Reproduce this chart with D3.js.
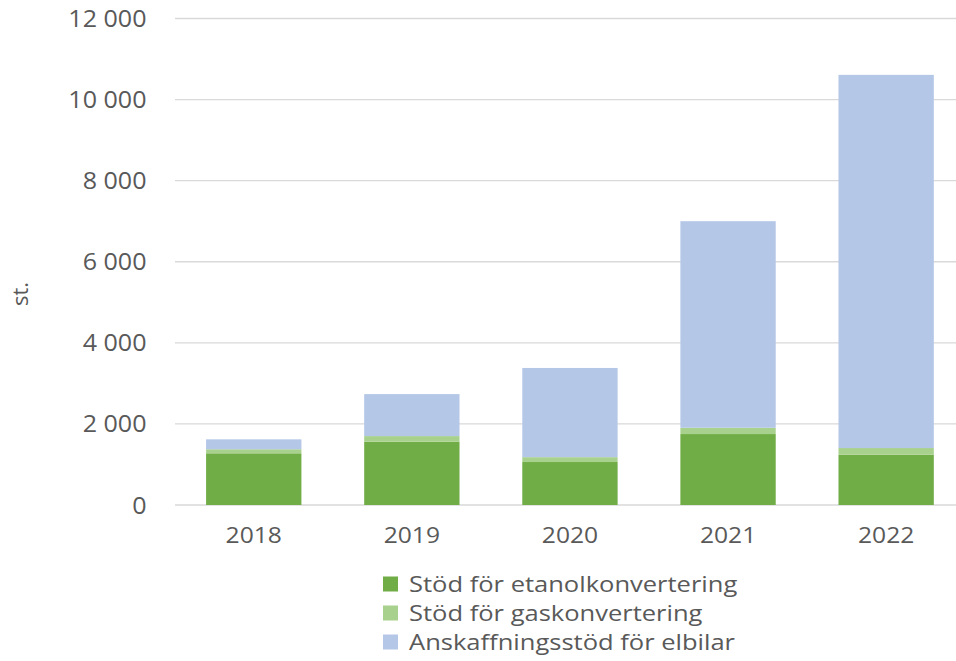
<!DOCTYPE html>
<html>
<head>
<meta charset="utf-8">
<script src="https://cdn.jsdelivr.net/npm/d3@7"></script>
<style>
  html, body { margin: 0; padding: 0; background: #fff; }
  svg { display: block; font-family: "Open Sans", "Noto Sans", sans-serif; }
</style>
</head>
<body>
<svg id="chart" width="956" height="661"></svg>
<script>
const years = ["2018", "2019", "2020", "2021", "2022"];
const etanol = [1275, 1560, 1060, 1750, 1240];
const gas = [100, 140, 120, 155, 165];
const elbil = [245, 1035, 2200, 5095, 9205];
const seriesNames = ["Stöd för etanolkonvertering", "Stöd för gaskonvertering", "Anskaffningsstöd för elbilar"];
const seriesColors = ["#70AD47", "#A9D18E", "#B4C7E7"];
const yTicks = [0, 2000, 4000, 6000, 8000, 10000, 12000];
const yLabel = "st.";

const svg = d3.select("#chart");
const x = d3.scaleBand().domain(years).range([174.7, 965.2]).paddingInner(0.397).paddingOuter(0.1985);
const y = d3.scaleLinear().domain([0, 12000]).range([505, 18.5]);

const fmt = v => d3.format(",")(v).replace(/,/g, " ");

// gridlines
svg.append("g").selectAll("line").data(yTicks).join("line")
  .attr("x1", 175).attr("x2", 965)
  .attr("y1", d => y(d)).attr("y2", d => y(d))
  .attr("stroke", "#d9d9d9").attr("stroke-width", 1.3);

// y axis labels
const yAxis = d3.axisLeft(y).tickValues(yTicks).tickFormat(fmt).tickSize(0).tickPadding(0);
const yg = svg.append("g").attr("transform", "translate(146.5,0)").call(yAxis);
yg.select(".domain").remove();
yg.selectAll("text").attr("fill", "#595959").attr("font-size", 23).attr("font-family", "Open Sans")
  .attr("dy", "0.35em").attr("transform", "scale(1.09,1)");

// stacked data
const rows = years.map((yr, i) => ({ year: yr, e: etanol[i], g: gas[i], b: elbil[i] }));
const stack = d3.stack().keys(["e", "g", "b"])(rows);

svg.append("g").selectAll("g").data(stack).join("g")
  .attr("fill", (d, i) => seriesColors[i])
  .selectAll("rect").data(d => d).join("rect")
  .attr("x", d => x(d.data.year))
  .attr("width", x.bandwidth())
  .attr("y", d => y(d[1]))
  .attr("height", d => y(d[0]) - y(d[1]));

// x axis labels
const xAxis = d3.axisBottom(x).tickSize(0).tickPadding(0);
const xg = svg.append("g").attr("transform", "translate(0,527)").call(xAxis);
xg.select(".domain").remove();
xg.selectAll("text").attr("fill", "#595959").attr("font-size", 22).attr("font-family", "Open Sans")
  .attr("dy", "0.71em").attr("transform", "scale(1.12,1)");

// y label
svg.append("text")
  .attr("transform", "translate(28,294) rotate(-90)")
  .attr("text-anchor", "middle")
  .attr("fill", "#595959").attr("font-size", 22)
  .text(yLabel);

// legend
const lg = svg.append("g").selectAll("g").data(seriesNames).join("g")
  .attr("transform", (d, i) => `translate(383,${584 + i * 29})`);
lg.append("rect").attr("x", 0).attr("y", -7.5).attr("width", 15).attr("height", 15)
  .attr("fill", (d, i) => seriesColors[i]);
lg.append("text").attr("dy", "0.35em")
  .attr("transform", "translate(26,0) scale(1.16,1)")
  .attr("fill", "#595959").attr("font-size", 22)
  .text(d => d);
</script>
</body>
</html>
